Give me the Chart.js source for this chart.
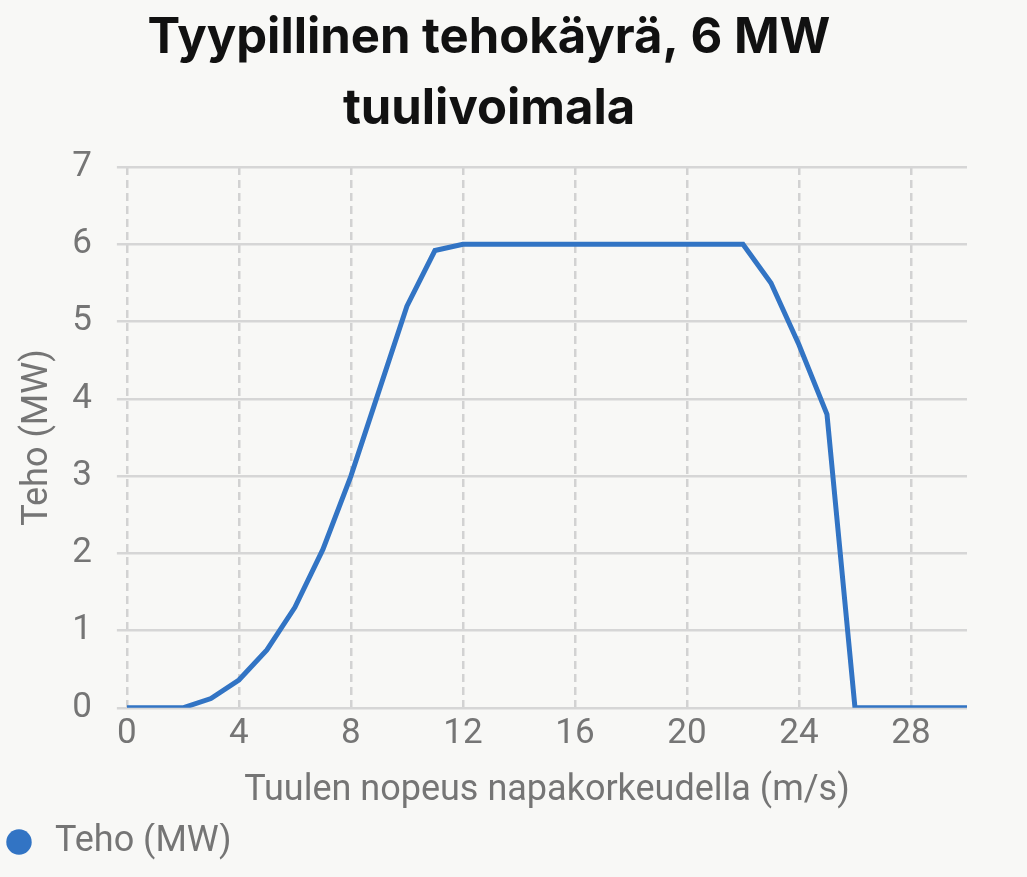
<!DOCTYPE html>
<html><head><meta charset="utf-8">
<script src="https://cdn.jsdelivr.net/npm/chart.js@4"></script>
<style>
html,body{margin:0;padding:0;background:#f8f8f6;}
#wrap{position:absolute;left:0;top:0;width:978px;height:877px;}
</style></head><body>
<div id="wrap"><canvas id="c"></canvas></div>
<script>
const titleLines = ['Tyypillinen tehokäyrä, 6 MW', 'tuulivoimala'];
const seriesName = 'Teho (MW)';
const xTitle = 'Tuulen nopeus napakorkeudella (m/s)';
const yTitle = 'Teho (MW)';
const windSpeeds = [0,1,2,3,4,5,6,7,8,9,10,11,12,13,14,15,16,17,18,19,20,21,22,23,24,25,26,27,28,29,30];
const powerMW = [0,0,0,0.12,0.36,0.75,1.3,2.05,3.0,4.1,5.2,5.92,6,6,6,6,6,6,6,6,6,6,6,5.5,4.7,3.8,0,0,0,0,0];
const xTickValues = [0,4,8,12,16,20,24,28];
const yTickValues = [0,1,2,3,4,5,6,7];

const blue = '#3274c4';
const gray = '#757575';
const points = windSpeeds.map((x, i) => ({x: x, y: powerMW[i]}));

const titleShift = {
  id: 'titleShift',
  afterLayout(chart) {
    const t = chart.titleBlock;
    if (t) { t.left += 5.5; t.right += 5.5; }
  }
};

new Chart(document.getElementById('c'), {
  type: 'line',
  data: {
    datasets: [{
      label: seriesName,
      data: points,
      borderColor: blue,
      backgroundColor: blue,
      borderWidth: 5,
      pointRadius: 0,
      pointStyle: 'circle',
      tension: 0,
      fill: false
    }]
  },
  plugins: [titleShift],
  options: {
    responsive: true,
    maintainAspectRatio: false,
    animation: false,
    layout: {padding: {left: 0, right: 11, top: 0, bottom: 7}},
    plugins: {
      title: {
        display: true,
        text: titleLines,
        color: '#111111',
        font: {family: "Inter, sans-serif", size: 49, weight: 'bold', lineHeight: 1.46},
        padding: {top: 2, bottom: 22}
      },
      legend: {
        display: true,
        position: 'bottom',
        align: 'start',
        labels: {
          usePointStyle: true,
          boxHeight: 18,
          padding: 1,
          color: gray,
          font: {family: 'Roboto', size: 36},
          generateLabels: (chart) => {
            const items = Chart.defaults.plugins.legend.labels.generateLabels(chart);
            items.forEach(it => { it.lineWidth = 0; it.fillStyle = blue; it.strokeStyle = blue; });
            return items;
          }
        }
      },
      tooltip: {enabled: false}
    },
    scales: {
      x: {
        type: 'linear',
        min: 0,
        max: 30,
        afterBuildTicks: (scale) => { scale.ticks = xTickValues.map(v => ({value: v})); },
        ticks: {color: gray, font: {family: 'Roboto', size: 35}, padding: 5, maxRotation: 0, autoSkip: false},
        grid: {color: '#d2d2d2', lineWidth: 2.5, drawTicks: false},
        border: {display: false, dash: [8, 5]},
        title: {display: true, text: xTitle, color: gray, font: {family: 'Roboto', size: 36}, padding: {top: 10, bottom: 10}}
      },
      y: {
        min: 0,
        max: 7,
        afterBuildTicks: (scale) => { scale.ticks = yTickValues.map(v => ({value: v})); },
        ticks: {color: gray, font: {family: 'Roboto', size: 35}, padding: 0},
        grid: {color: '#d6d6d6', lineWidth: 2.5, drawTicks: true, tickLength: 35, tickBorderDash: [0, 25, 100]},
        border: {display: false},
        title: {display: true, text: yTitle, color: gray, font: {family: 'Roboto', size: 36}, padding: {top: 16, bottom: 13}}
      }
    }
  }
});
</script>
</body></html>
